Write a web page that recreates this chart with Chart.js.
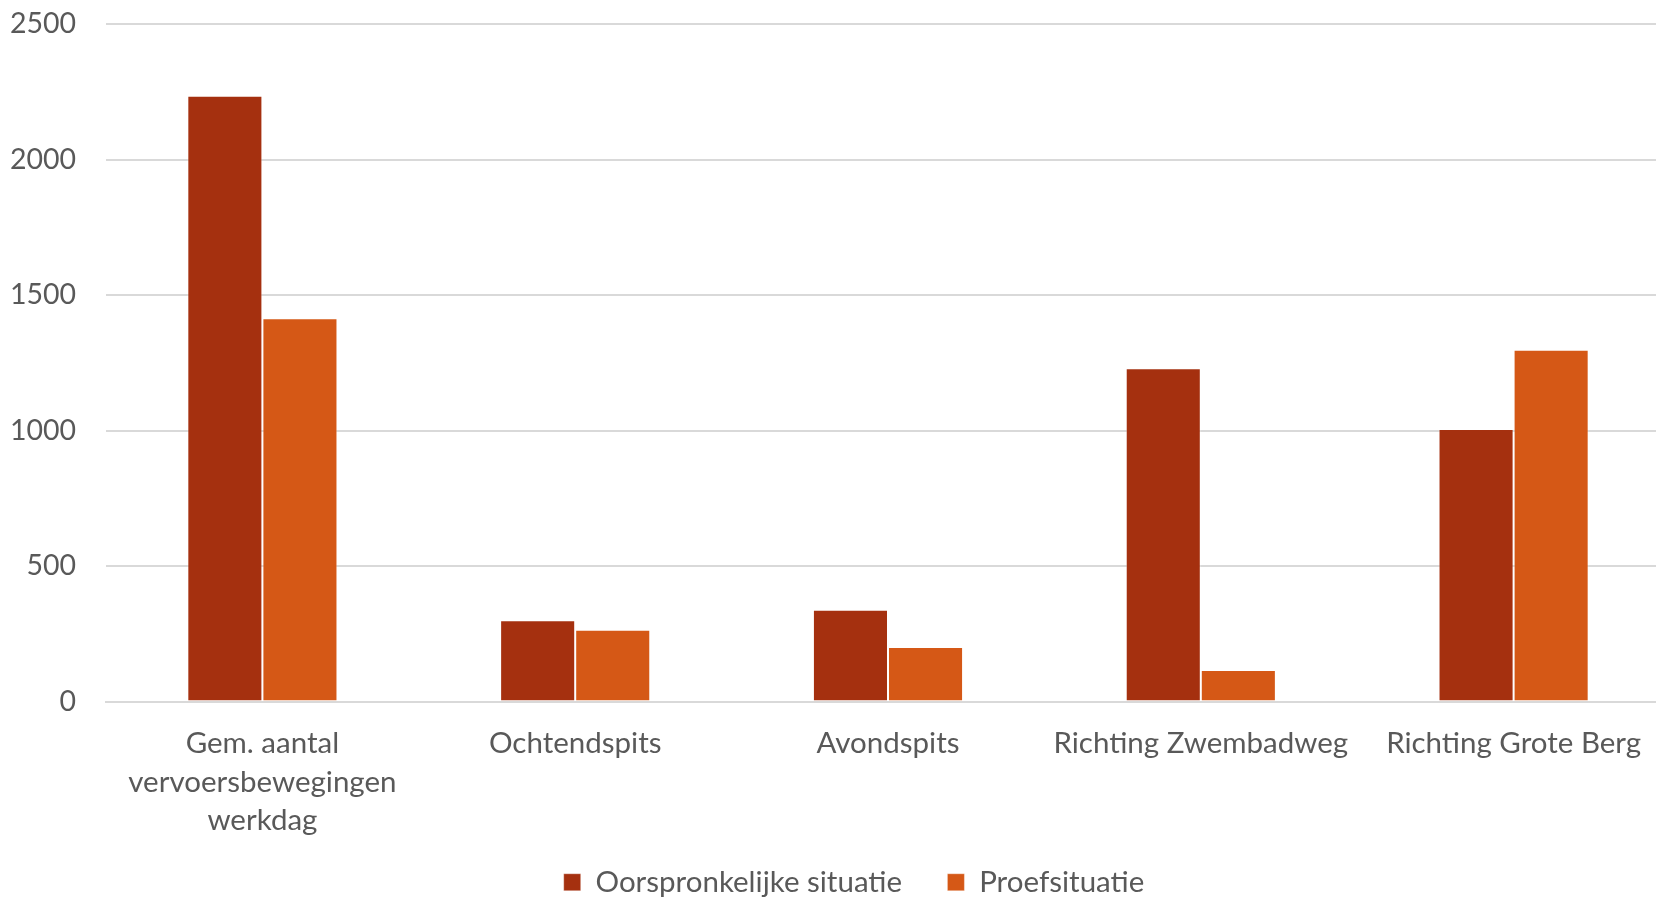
<!DOCTYPE html>
<html>
<head>
<meta charset="utf-8">
<script src="https://cdn.jsdelivr.net/npm/chart.js@4.4.3/dist/chart.umd.min.js"></script>
<style>
  html, body { margin: 0; padding: 0; background: #fff; overflow: hidden; }
  body { width: 1656px; height: 899px; position: relative; }
  /* canvas is a bit larger than the page: the reference plot runs past the right edge */
  #wrap { width: 1670px; height: 930px; position: absolute; left: 0; top: -23px; }
</style>
</head>
<body>
<div id="wrap"><canvas id="c"></canvas></div>
<script>
const categories = [
  ['Gem. aantal', 'vervoersbewegingen', 'werkdag'],
  'Ochtendspits',
  'Avondspits',
  'Richting Zwembadweg',
  'Richting Grote Berg'
];
const seriesNames = ['Oorspronkelijke situatie', 'Proefsituatie'];
const oorspronkelijk = [2236, 300, 339, 1230, 1006];
const proef = [1414, 265, 201, 116, 1298];
const yTicks = [0, 500, 1000, 1500, 2000, 2500];

const textColor = '#595959';
const family = 'Lato, "Open Sans", sans-serif';

new Chart(document.getElementById('c'), {
  type: 'bar',
  data: {
    labels: categories,
    datasets: [
      { label: seriesNames[0], data: oorspronkelijk, backgroundColor: '#A5300F', borderColor: 'rgba(255,255,255,0.35)', borderWidth: 1 },
      { label: seriesNames[1], data: proef, backgroundColor: '#D55816', borderColor: 'rgba(255,255,255,0.35)', borderWidth: 1 }
    ]
  },
  options: {
    responsive: true,
    maintainAspectRatio: false,
    animation: false,
    layout: { padding: 0 },
    datasets: { bar: { barPercentage: 1, categoryPercentage: 0.48 } },
    plugins: {
      tooltip: { enabled: false },
      legend: {
        position: 'bottom',
        fullSize: false,
        labels: {
          color: textColor,
          font: { family, size: 29.5 },
          boxWidth: 17,
          boxHeight: 17,
          padding: 0,
          // spaces: gap between items, and nudge the row left a little
          generateLabels: (chart) => {
            const items = Chart.defaults.plugins.legend.labels.generateLabels(chart);
            items[0].text += '      ';
            items[1].text += '         ';
            return items;
          }
        }
      }
    },
    scales: {
      x: {
        grid: { display: false },
        border: { color: '#d9d9d9', width: 2 },
        ticks: { color: textColor, font: { family, size: 29.5, lineHeight: 1.3 }, padding: 15, maxRotation: 0, autoSkip: false },
        afterFit: (s) => { s.height = 166; }
      },
      y: {
        min: 0,
        max: 2500,
        afterBuildTicks: (s) => { s.ticks = yTicks.map((v) => ({ value: v })); },
        grid: { color: '#d9d9d9', lineWidth: 2, drawTicks: false },
        border: { display: false },
        ticks: { color: textColor, font: { family, size: 28.5 }, padding: 30, callback: (v) => String(v) },
        afterFit: (s) => { s.width = 106; }
      }
    }
  }
});
</script>
</body>
</html>
